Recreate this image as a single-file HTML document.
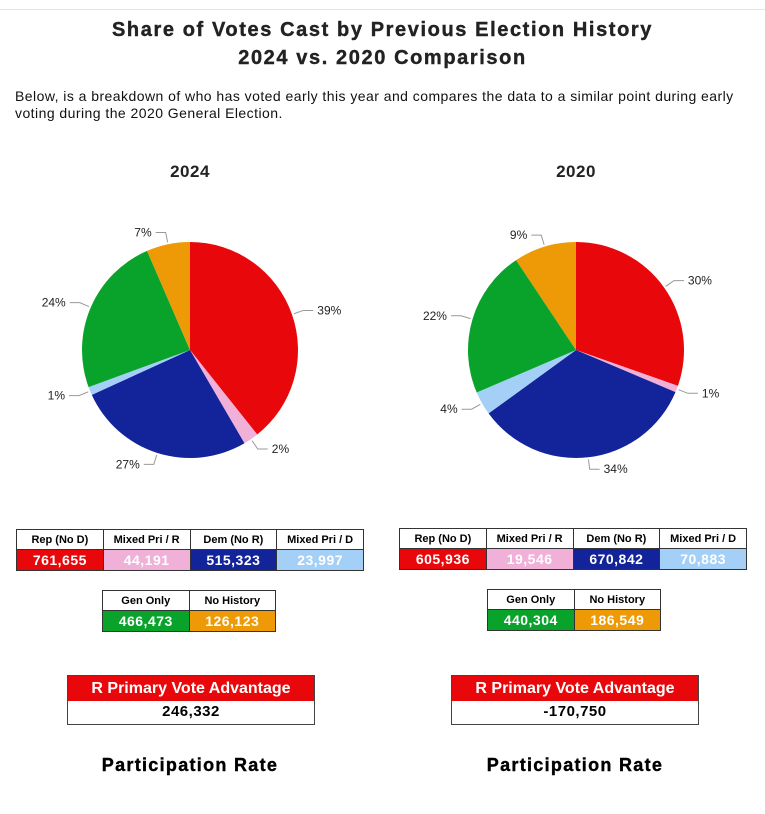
<!DOCTYPE html>
<html><head><meta charset="utf-8">
<style>
body{margin:0;width:765px;height:814px;background:#fff;font-family:"Liberation Sans",Arial,sans-serif;position:relative;overflow:hidden;color:#000}
.abs{position:absolute}
.title{left:0;width:765px;text-align:center;font-weight:bold;font-size:20px;letter-spacing:1.6px;color:#222;-webkit-text-stroke:0.4px #222}
.desc{left:15px;top:88px;width:728px;font-size:14px;line-height:17px;color:#111;letter-spacing:0.45px}
.yr{font-weight:bold;font-size:17px;width:200px;text-align:center;color:#222;letter-spacing:0.5px}
table{position:absolute;border-collapse:collapse;table-layout:fixed}
td{border:1px solid #333;text-align:center;padding:0;font-weight:bold}
td.h{height:19px;font-size:11px;background:#fff}
td.v{height:20px;font-size:14px;color:#fff;letter-spacing:0.5px}
.adv{position:absolute;width:246px;height:48px;border:1px solid #444}
.adv .t{background:#e8080b;color:#fff;font-size:16px;font-weight:bold;height:25px;line-height:25px;text-align:center}
.adv .n{font-size:15px;font-weight:bold;text-align:center;line-height:22px;letter-spacing:0.5px}
.pr{font-weight:bold;font-size:18px;width:250px;text-align:center;top:755px;letter-spacing:1.3px;-webkit-text-stroke:0.4px #000}
</style></head><body>
<div class="abs" style="left:0;top:9px;width:765px;border-top:1px solid #e4e4e4"></div>
<div class="abs title" style="top:19px">Share of Votes Cast by Previous Election History</div>
<div class="abs title" style="top:47px">2024 vs. 2020 Comparison</div>
<div class="abs desc">Below, is a breakdown of who has voted early this year and compares the data to a similar point during early voting during the 2020 General Election.</div>
<div class="abs yr" style="left:90px;top:162px">2024</div>
<div class="abs yr" style="left:476px;top:162px">2020</div>
<svg class="abs" style="left:0;top:0" width="765" height="520" id="pies"></svg>

<table style="left:16px;top:529px;width:348px">
<tr><td class="h">Rep (No D)</td><td class="h">Mixed Pri / R</td><td class="h">Dem (No R)</td><td class="h">Mixed Pri / D</td></tr>
<tr><td class="v" style="background:#e8080b">761,655</td><td class="v" style="background:#f0b0d8">44,191</td><td class="v" style="background:#13239a">515,323</td><td class="v" style="background:#a4d0f8">23,997</td></tr></table>
<table style="left:102px;top:590px;width:174px">
<tr><td class="h">Gen Only</td><td class="h">No History</td></tr>
<tr><td class="v" style="background:#09a32c">466,473</td><td class="v" style="background:#ee9a06">126,123</td></tr></table>
<table style="left:399px;top:528px;width:348px">
<tr><td class="h">Rep (No D)</td><td class="h">Mixed Pri / R</td><td class="h">Dem (No R)</td><td class="h">Mixed Pri / D</td></tr>
<tr><td class="v" style="background:#e8080b">605,936</td><td class="v" style="background:#f0b0d8">19,546</td><td class="v" style="background:#13239a">670,842</td><td class="v" style="background:#a4d0f8">70,883</td></tr></table>
<table style="left:487px;top:589px;width:174px">
<tr><td class="h">Gen Only</td><td class="h">No History</td></tr>
<tr><td class="v" style="background:#09a32c">440,304</td><td class="v" style="background:#ee9a06">186,549</td></tr></table>

<div class="adv" style="left:67px;top:675px"><div class="t">R Primary Vote Advantage</div><div class="n">246,332</div></div>
<div class="adv" style="left:451px;top:675px"><div class="t">R Primary Vote Advantage</div><div class="n">-170,750</div></div>
<div class="abs pr" style="left:65px">Participation Rate</div>
<div class="abs pr" style="left:450px">Participation Rate</div>

<script>
const categories=["Rep (No D)","Mixed Pri / R","Dem (No R)","Mixed Pri / D","Gen Only","No History"];
const values2024=[761655,44191,515323,23997,466473,126123];
const values2020=[605936,19546,670842,70883,440304,186549];
const colors=["#e8080b","#f0b0d8","#13239a","#a4d0f8","#09a32c","#ee9a06"];
const svg=document.getElementById('pies');
const NS="http://www.w3.org/2000/svg";
function mk(t,a){const e=document.createElementNS(NS,t);for(const k in a)e.setAttribute(k,a[k]);svg.appendChild(e);return e;}
function pie(vals,cx,cy,r,name){
  const tot=vals.reduce((a,b)=>a+b,0);let a0=0;
  vals.forEach((v,i)=>{
    const a1=a0+v/tot*2*Math.PI;
    const p=a=>[cx+r*Math.sin(a),cy-r*Math.cos(a)];
    const [x0,y0]=p(a0),[x1,y1]=p(a1);
    const large=(a1-a0)>Math.PI?1:0;
    const s=mk('path',{d:`M${cx},${cy}L${x0},${y0}A${r},${r} 0 ${large} 1 ${x1},${y1}Z`,fill:colors[i]});
    
    
    const am=(a0+a1)/2,sx=Math.sin(am),sy=-Math.cos(am);
    const ex=cx+(r+2)*sx,ey=cy+(r+2)*sy,mx=cx+(r+12)*sx,my=cy+(r+12)*sy;
    const dir=sx>=0?1:-1,hx=mx+dir*10;
    const l=mk('polyline',{points:`${ex},${ey} ${mx},${my} ${hx},${my}`,fill:'none',stroke:'#999','stroke-width':1});
    
    
    const t=mk('text',{x:hx+dir*4,y:my+4,'font-size':12,'text-anchor':dir>0?'start':'end','font-family':'Liberation Sans, sans-serif',fill:'#222'});
    t.textContent=Math.round(v/tot*100)+'%';
    
    
    a0=a1;
  });
}
pie(values2024,190,350,108,'pie-2024');
pie(values2020,576,350,108,'pie-2020');
</script>
</body></html>
